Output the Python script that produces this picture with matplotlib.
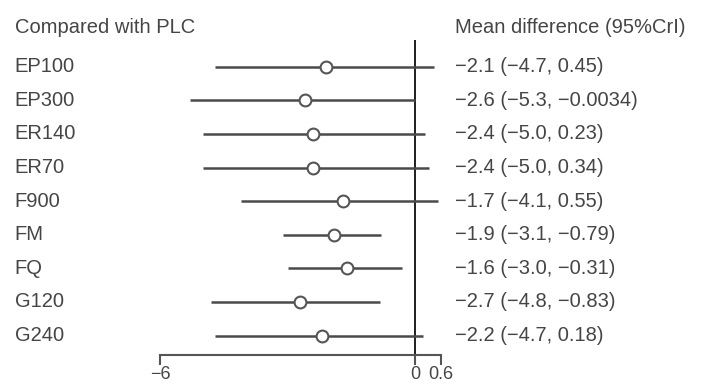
import matplotlib.pyplot as plt

# Network meta-analysis results versus placebo
treatments = ['EP100', 'EP300', 'ER140', 'ER70', 'F900', 'FM', 'FQ', 'G120', 'G240']
mean_diff = [-2.1, -2.6, -2.4, -2.4, -1.7, -1.9, -1.6, -2.7, -2.2]
lower = [-4.7, -5.3, -5.0, -5.0, -4.1, -3.1, -3.0, -4.8, -4.7]
upper = [0.45, -0.0034, 0.23, 0.34, 0.55, -0.79, -0.31, -0.83, 0.18]
ci_text = ['0.45', '\u22120.0034', '0.23', '0.34', '0.55', '\u22120.79', '\u22120.31', '\u22120.83', '0.18']
xticks = [-6, 0, 0.6]

text_col = '#454545'
line_col = '#4a4a4a'
plt.rcParams['font.family'] = ['Liberation Sans', 'DejaVu Sans']

fig = plt.figure(figsize=(7.02, 3.85), dpi=100)
ax = fig.add_axes([0, 0, 1, 1])
ax.set_xlim(-9.765, 6.753)
ax.set_ylim(9.47, -1.985)

rows = list(range(len(treatments)))

# intervals and point estimates
ax.hlines(rows, lower, upper, color=line_col, lw=1.8, zorder=2)
ax.plot(mean_diff, rows, 'o', ms=8.5, mfc='white', mec='#555555', mew=1.5, zorder=3)

# line of no effect
ax.vlines(0, -0.79, 8.85, color='#1e1e1e', lw=1.4, zorder=1)

# x axis drawn as the bottom spine
for s in ['top', 'right', 'left']:
    ax.spines[s].set_visible(False)
ax.spines['bottom'].set_position(('data', 8.58))
ax.spines['bottom'].set_bounds(-6, 0.6)
ax.spines['bottom'].set_color('#555555')
ax.spines['bottom'].set_linewidth(1.5)
ax.set_xticks(xticks)
ax.set_xticklabels(['\u22126', '0', '0.6'])
ax.tick_params(axis='x', direction='out', length=7, width=1.5, color='#555555',
               labelsize=13, labelcolor=text_col, pad=1)
ax.set_yticks([])

# row labels and estimate text
left_tr = ax.get_yaxis_transform()
for i, name in enumerate(treatments):
    ax.text(0.021, i, name, transform=left_tr, ha='left', va='center',
            fontsize=14.5, color=text_col)
    est = '\u2212%.1f (\u2212%.1f, %s)' % (-mean_diff[i], -lower[i], ci_text[i])
    ax.text(0.648, i, est, transform=left_tr, ha='left', va='center',
            fontsize=14.5, color=text_col)

ax.text(0.021, -1.18, 'Compared with PLC', transform=left_tr, ha='left',
        va='center', fontsize=14.5, color=text_col)
ax.text(0.648, -1.18, 'Mean difference (95%CrI)', transform=left_tr, ha='left',
        va='center', fontsize=14.5, color=text_col)

fig.savefig('out.png', dpi=100, facecolor='white')
